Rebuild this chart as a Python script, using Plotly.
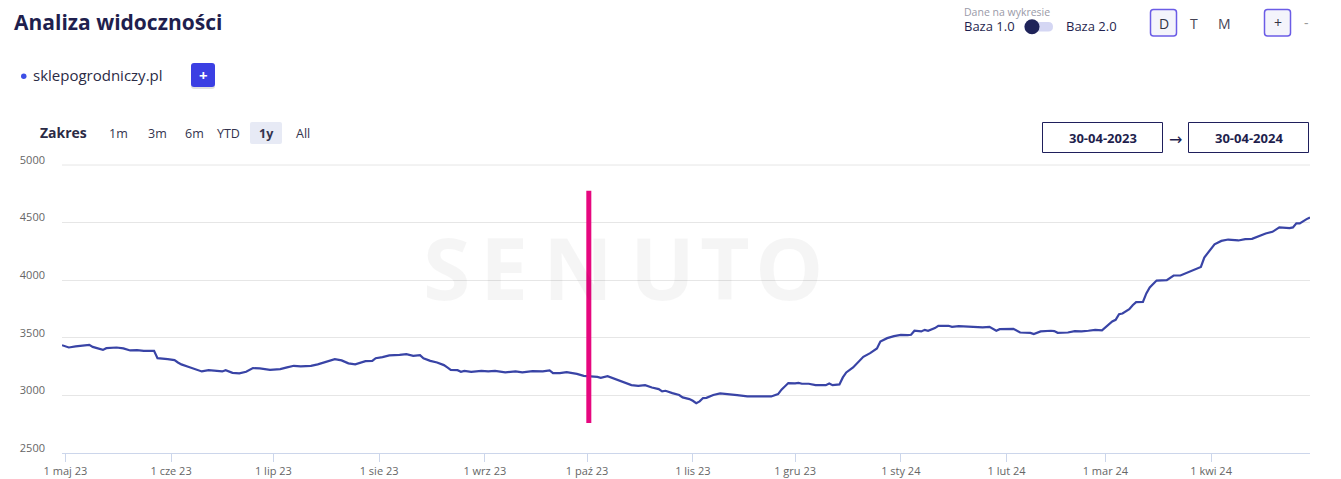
import plotly.graph_objects as go

# ---------------- data ----------------
dates = [
    "2023-04-30", "2023-05-02", "2023-05-04", "2023-05-06", "2023-05-08", "2023-05-09",
    "2023-05-12", "2023-05-13", "2023-05-16", "2023-05-18", "2023-05-20", "2023-05-22",
    "2023-05-24", "2023-05-27", "2023-05-28", "2023-05-31", "2023-06-02", "2023-06-03",
    "2023-06-04", "2023-06-06", "2023-06-08", "2023-06-10", "2023-06-12", "2023-06-14",
    "2023-06-16", "2023-06-17", "2023-06-19", "2023-06-21", "2023-06-23", "2023-06-25",
    "2023-06-27", "2023-06-30", "2023-07-03", "2023-07-05", "2023-07-07", "2023-07-09",
    "2023-07-12", "2023-07-14", "2023-07-16", "2023-07-17", "2023-07-19", "2023-07-21",
    "2023-07-23", "2023-07-25", "2023-07-28", "2023-07-30", "2023-07-31", "2023-08-02",
    "2023-08-04", "2023-08-07", "2023-08-09", "2023-08-11", "2023-08-13", "2023-08-14",
    "2023-08-16", "2023-08-18", "2023-08-20", "2023-08-21", "2023-08-22", "2023-08-24",
    "2023-08-25", "2023-08-26", "2023-08-28", "2023-08-31", "2023-09-02", "2023-09-04",
    "2023-09-07", "2023-09-10", "2023-09-12", "2023-09-15", "2023-09-18", "2023-09-20",
    "2023-09-21", "2023-09-23", "2023-09-25", "2023-09-28", "2023-09-30", "2023-10-04",
    "2023-10-05", "2023-10-07", "2023-10-08", "2023-10-10", "2023-10-12", "2023-10-14",
    "2023-10-16", "2023-10-18", "2023-10-20", "2023-10-22", "2023-10-23", "2023-10-24",
    "2023-10-26", "2023-10-28", "2023-10-29", "2023-10-31", "2023-11-01", "2023-11-02",
    "2023-11-03", "2023-11-04", "2023-11-05", "2023-11-07", "2023-11-09", "2023-11-11",
    "2023-11-14", "2023-11-17", "2023-11-19", "2023-11-22", "2023-11-24", "2023-11-26",
    "2023-11-27", "2023-11-29", "2023-12-01", "2023-12-02", "2023-12-03", "2023-12-05",
    "2023-12-07", "2023-12-10", "2023-12-11", "2023-12-12", "2023-12-14", "2023-12-15",
    "2023-12-16", "2023-12-18", "2023-12-20", "2023-12-21", "2023-12-23", "2023-12-25",
    "2023-12-26", "2023-12-28", "2023-12-30", "2024-01-01", "2024-01-03", "2024-01-04",
    "2024-01-05", "2024-01-07", "2024-01-08", "2024-01-09", "2024-01-11", "2024-01-12",
    "2024-01-15", "2024-01-16", "2024-01-18", "2024-01-20", "2024-01-23", "2024-01-25",
    "2024-01-27", "2024-01-29", "2024-01-30", "2024-02-03", "2024-02-05", "2024-02-08",
    "2024-02-09", "2024-02-11", "2024-02-14", "2024-02-15", "2024-02-16", "2024-02-19",
    "2024-02-21", "2024-02-23", "2024-02-25", "2024-02-27", "2024-02-29", "2024-03-01",
    "2024-03-03", "2024-03-04", "2024-03-05", "2024-03-06", "2024-03-08", "2024-03-09",
    "2024-03-10", "2024-03-12", "2024-03-13", "2024-03-14", "2024-03-16", "2024-03-19",
    "2024-03-21", "2024-03-23", "2024-03-25", "2024-03-28", "2024-03-29", "2024-03-30",
    "2024-04-01", "2024-04-02", "2024-04-04", "2024-04-06", "2024-04-09", "2024-04-11",
    "2024-04-13", "2024-04-15", "2024-04-17", "2024-04-19", "2024-04-21", "2024-04-24",
    "2024-04-25", "2024-04-26", "2024-04-27", "2024-04-29", "2024-04-30",
]

visibility = [
    3436, 3416, 3425, 3434, 3439, 3421,
    3395, 3410, 3416, 3408, 3390, 3393,
    3387, 3387, 3323, 3315, 3306, 3286,
    3269, 3248, 3231, 3208, 3219, 3211,
    3208, 3219, 3196, 3191, 3205, 3237,
    3234, 3222, 3228, 3243, 3257, 3252,
    3257, 3269, 3286, 3295, 3315, 3304,
    3278, 3269, 3297, 3300, 3323, 3332,
    3347, 3352, 3358, 3343, 3350, 3323,
    3300, 3286, 3263, 3243, 3222, 3219,
    3205, 3213, 3205, 3213, 3208, 3213,
    3200, 3208, 3200, 3211, 3208, 3217,
    3193, 3193, 3202, 3187, 3170, 3161,
    3153, 3167, 3156, 3127, 3107, 3089,
    3083, 3089, 3069, 3055, 3035, 3040,
    3020, 3003, 2983, 2968, 2953, 2933,
    2948, 2977, 2979, 3003, 3017, 3014,
    3003, 2991, 2991, 2994, 2991, 3011,
    3050, 3107, 3104, 3109, 3101, 3101,
    3089, 3089, 3104, 3089, 3095, 3156,
    3199, 3243, 3300, 3335, 3367, 3408,
    3468, 3497, 3514, 3526, 3523, 3526,
    3561, 3555, 3569, 3561, 3584, 3604,
    3604, 3595, 3601, 3598, 3595, 3590,
    3595, 3561, 3575, 3578, 3546, 3543,
    3532, 3555, 3561, 3558, 3543, 3546,
    3558, 3555, 3561, 3569, 3564, 3590,
    3642, 3656, 3705, 3711, 3748, 3783,
    3809, 3812, 3885, 3937, 3997, 4000,
    4041, 4041, 4067, 4101, 4115, 4197,
    4269, 4312, 4341, 4353, 4345, 4356,
    4359, 4385, 4406, 4420, 4458, 4452,
    4458, 4493, 4493, 4530, 4545,
]

tick_dates = [
    "2023-05-01", "2023-06-01", "2023-07-01", "2023-08-01", "2023-09-01", "2023-10-01",
    "2023-11-01", "2023-12-01", "2024-01-01", "2024-02-01", "2024-03-01", "2024-04-01",
]
tick_labels = [
    "1 maj 23", "1 cze 23", "1 lip 23", "1 sie 23", "1 wrz 23", "1 paź 23",
    "1 lis 23", "1 gru 23", "1 sty 24", "1 lut 24", "1 mar 24", "1 kwi 24",
]
y_ticks = [2500, 3000, 3500, 4000, 4500, 5000]

marker_date = "2023-10-01 12:00"
marker_low = 2760
marker_high = 4777

x_range = ["2023-04-30", "2024-04-30"]
y_range = [2500, 5000]

# ---------------- layout helpers ----------------
W, H = 1341, 479
L, R, T, B = 62, 1310, 165, 453
FONT = "Open Sans"
NAVY = "#1f1f4e"
TEXT = "#2b2b45"


def px(x):
    return (x - L) / (R - L)


def py(y):
    return (B - y) / (B - T)


def rrect(x0, y0, x1, y1, r):
    rx, ry = r / (R - L), r / (B - T)
    X0, X1 = px(x0), px(x1)
    Y0, Y1 = py(y0), py(y1)  # Y0 top (larger), Y1 bottom
    return (f"M{X0+rx},{Y0} L{X1-rx},{Y0} Q{X1},{Y0} {X1},{Y0-ry} "
            f"L{X1},{Y1+ry} Q{X1},{Y1} {X1-rx},{Y1} L{X0+rx},{Y1} "
            f"Q{X0},{Y1} {X0},{Y1+ry} L{X0},{Y0-ry} Q{X0},{Y0} {X0+rx},{Y0} Z")


annotations = []
shapes = []


def text(x, y, s, size=13, color=TEXT, anchor="left", family=FONT, bold=False):
    annotations.append(dict(
        x=px(x), y=py(y), xref="paper", yref="paper", text=(f"<b>{s}</b>" if bold else s),
        showarrow=False, xanchor=anchor, yanchor="middle",
        font=dict(family=family, size=size, color=color), borderpad=0,
    ))


def box(x0, y0, x1, y1, r, fill, line_color=None, line_width=0):
    shapes.append(dict(
        type="path", path=rrect(x0, y0, x1, y1, r), xref="paper", yref="paper",
        fillcolor=fill, line=dict(color=line_color or fill, width=line_width), layer="above",
    ))


# top gridline (5000), drawn at the plot's upper edge
shapes.append(dict(type="line", xref="paper", yref="paper", x0=0, x1=1, y0=1, y1=1,
                   line=dict(color="#e6e6e6", width=1), layer="below"))

# watermark
for ch, cx in zip("SENUTO", [446, 504, 578, 662, 725, 789]):
    annotations.append(dict(
        x=px(cx), y=py(266), xref="paper", yref="paper", text=f"<b>{ch}</b>", showarrow=False,
        xanchor="center", yanchor="middle",
        font=dict(family=FONT, size=86, color="rgba(0,0,0,0.04)"),
    ))

# header
text(13, 22, "Analiza widoczności", size=21, color=NAVY, bold=True)
shapes.append(dict(type="circle", xref="paper", yref="paper",
                   x0=px(21), x1=px(26.5), y0=py(73.5), y1=py(79),
                   fillcolor="#3d4fe6", line=dict(width=0)))
text(32, 75, "sklepogrodniczy.pl", size=15, color=TEXT)
box(191, 65, 215, 89, 3, "rgba(0,0,0,0.12)")
box(191, 63, 215, 87, 3, "#3b3fe3")
text(203, 75, "+", size=15, color="white", anchor="center", bold=True)

text(39, 132, "Zakres", size=14, color=TEXT, bold=True)
box(250, 122, 282, 144, 2, "#e7eaf5")
for lab, cx in zip(["1m", "3m", "6m", "YTD", "1y", "All"], [118, 157, 194, 228.5, 266, 303]):
    text(cx, 133, lab, size=12.5, color="#33334d", anchor="center", bold=(lab == "1y"))

# top-right controls
text(963, 12, "Dane na wykresie", size=10.5, color="#9a9aa8")
text(963, 26, "Baza 1.0", size=13, color=NAVY)
box(1024, 22, 1053, 31.5, 4.7, "#d4d6f3")
shapes.append(dict(type="circle", xref="paper", yref="paper",
                   x0=px(1024.5), x1=px(1039.5), y0=py(19.2), y1=py(34.2),
                   fillcolor="#1f2359", line=dict(width=0), layer="above"))
text(1065, 26, "Baza 2.0", size=13, color=NAVY)

box(1150.5, 9.5, 1176.5, 36, 3, "#f4f4fb", "#6b5ce6", 1.5)
text(1163.5, 23, "D", size=14, color="#333344", anchor="center")
text(1194, 23, "T", size=14, color="#444455", anchor="center")
text(1224.5, 23, "M", size=14, color="#444455", anchor="center")
box(1264.5, 9.5, 1290.5, 36, 3, "#f4f4fb", "#6b5ce6", 1.5)
text(1277.5, 22.5, "+", size=14, color="#333344", anchor="center")
text(1306, 22, "-", size=14, color="#999999", anchor="center")

# date range boxes
for x0, lab in [(1042.5, "30-04-2023"), (1188.5, "30-04-2024")]:
    shapes.append(dict(type="rect", xref="paper", yref="paper",
                       x0=px(x0), x1=px(x0 + 120), y0=py(122.5), y1=py(152.5),
                       fillcolor="white", line=dict(color="#1f1f5c", width=1), layer="above"))
    text(x0 + 60, 137.5, lab, size=13, color=NAVY, anchor="center", bold=True)
text(1175.5, 139, "→", size=16, color=NAVY, anchor="center", family="DejaVu Sans")

# vertical marker
shapes.append(dict(type="line", xref="x", yref="y",
                   x0=marker_date, x1=marker_date, y0=marker_low, y1=marker_high,
                   line=dict(color="#e6077f", width=5), layer="above"))

# ---------------- figure ----------------
fig = go.Figure()
fig.add_trace(go.Scatter(
    x=dates, y=visibility, mode="lines",
    line=dict(color="#3944a6", width=2.2),
    name="sklepogrodniczy.pl", hoverinfo="x+y",
))

fig.update_layout(
    width=W, height=H, autosize=False,
    margin=dict(l=L, r=W - R, t=T, b=H - B, pad=0, autoexpand=False),
    paper_bgcolor="white", plot_bgcolor="white",
    showlegend=False,
    font=dict(family=FONT, size=11, color="#666666"),
    annotations=annotations,
    shapes=shapes,
    xaxis=dict(
        type="date", range=x_range, tickmode="array", tickvals=tick_dates, ticktext=tick_labels,
        showgrid=False, zeroline=False, showline=True, linecolor="#ccd6eb", linewidth=1,
        ticks="outside", ticklen=8, tickcolor="#ccd6eb", tickwidth=1, automargin=False,
        tickfont=dict(family=FONT, size=11, color="#666666"), fixedrange=True,
    ),
    yaxis=dict(
        range=y_range, tickmode="array", tickvals=y_ticks, automargin=False,
        showgrid=True, gridcolor="#e6e6e6", gridwidth=1, zeroline=False, showline=False,
        ticks="", ticklabelstandoff=16, ticklabelshift=-5,
        tickfont=dict(family=FONT, size=11, color="#666666"), fixedrange=True,
    ),
)

fig.write_html(
    "out.html",
    config={"displayModeBar": False},
    post_script="document.body.style.margin='0px';document.body.style.overflow='hidden';",
)
